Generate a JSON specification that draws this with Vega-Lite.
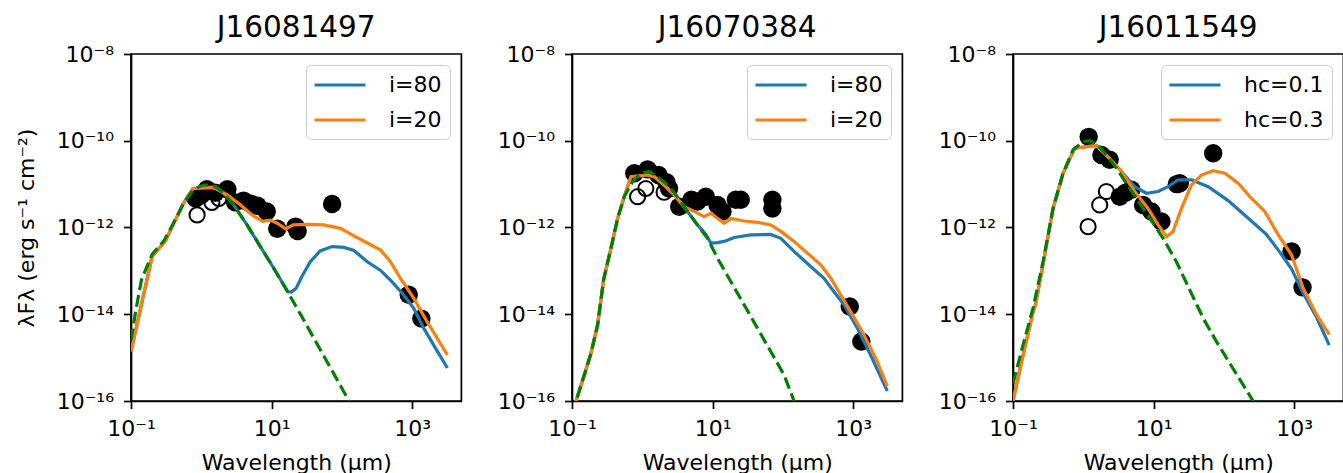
{
  "$schema": "https://vega.github.io/schema/vega-lite/v6.json",
  "padding": {"left": 14, "top": 11, "right": 0, "bottom": 0},
  "bounds": "flush",
  "spacing": 110,
  "background": "white",
  "config": {
    "font": "DejaVu Sans",
    "view": {"stroke": "black", "strokeWidth": 1.7},
    "axis": {
      "labelFont": "DejaVu Sans", "labelFontSize": 22, "labelColor": "black",
      "titleFont": "DejaVu Sans", "titleFontSize": 22, "titleFontWeight": "normal", "titleColor": "black",
      "tickColor": "black", "tickSize": 7.5, "tickWidth": 1.7,
      "domainColor": "black", "domainWidth": 1.7,
      "grid": false, "labelFlush": false, "labelOverlap": false, "labelPadding": 10
    },
    "legend": {
      "labelFont": "DejaVu Sans", "labelFontSize": 22, "labelColor": "black"
    }
  },
  "resolve": {"scale": {"x": "independent", "y": "independent", "color": "independent"}, "legend": {"color": "independent"}},
  "datasets": {
    "g1": [
      {"w":0.1,"f":2.51e-15},{"w":0.1175,"f":1.26e-14},{"w":0.1413,"f":6.31e-14},{"w":0.1995,"f":2.4e-13},{"w":0.2951,"f":5.01e-13},{"w":0.4074,"f":1.32e-12},{"w":0.5623,"f":3.63e-12},{"w":0.7762,"f":7.59e-12},{"w":1.072,"f":9.55e-12},{"w":1.318,"f":9.55e-12},{"w":1.585,"f":8.71e-12},{"w":2.089,"f":6.17e-12},{"w":2.884,"f":3.31e-12},{"w":4.467,"f":1.15e-12},{"w":6.918,"f":3.63e-13},{"w":10.72,"f":1.15e-13},{"w":16.6,"f":3.467e-14},{"w":25.7,"f":1.0e-14},{"w":39.81,"f":2.818e-15},{"w":61.66,"f":7.943e-16},{"w":95.5,"f":2.239e-16},{"w":147.9,"f":6.31e-17}
    ],
    "b1": [
      {"s":"i=80","w":0.1,"f":1.38e-15},{"s":"i=80","w":0.1995,"f":2.14e-13},{"s":"i=80","w":0.309,"f":4.9e-13},{"s":"i=80","w":0.4074,"f":1.259e-12},{"s":"i=80","w":0.5495,"f":3.467e-12},{"s":"i=80","w":0.7586,"f":7.943e-12},{"s":"i=80","w":1.585,"f":8.71e-12},{"s":"i=80","w":2.089,"f":6.17e-12},{"s":"i=80","w":2.884,"f":3.31e-12},{"s":"i=80","w":4.467,"f":1.15e-12},{"s":"i=80","w":6.918,"f":3.63e-13},{"s":"i=80","w":10.72,"f":1.15e-13},{"s":"i=80","w":16.98,"f":3.31e-14},{"s":"i=80","w":19.05,"f":3.236e-14},{"s":"i=80","w":22.39,"f":3.98e-14},{"s":"i=80","w":26.92,"f":7.41e-14},{"s":"i=80","w":35.48,"f":1.622e-13},{"s":"i=80","w":48.98,"f":2.884e-13},{"s":"i=80","w":72.44,"f":3.631e-13},{"s":"i=80","w":107.2,"f":3.467e-13},{"s":"i=80","w":147.9,"f":2.951e-13},{"s":"i=80","w":229.1,"f":1.622e-13},{"s":"i=80","w":354.8,"f":1.023e-13},{"s":"i=80","w":512.9,"f":5.623e-14},{"s":"i=80","w":724.4,"f":3.02e-14},{"s":"i=80","w":1047,"f":1.38e-14},{"s":"i=80","w":1445,"f":4.9e-15},{"s":"i=80","w":2138,"f":1.66e-15},{"s":"i=80","w":3162,"f":5.75e-16}
    ],
    "r1": [
      {"s":"i=20","w":0.1,"f":1.38e-15},{"s":"i=20","w":0.1995,"f":2.14e-13},{"s":"i=20","w":0.309,"f":4.9e-13},{"s":"i=20","w":0.4074,"f":1.259e-12},{"s":"i=20","w":0.5495,"f":3.467e-12},{"s":"i=20","w":0.7586,"f":7.943e-12},{"s":"i=20","w":1.5,"f":8.318e-12},{"s":"i=20","w":2.344,"f":5.623e-12},{"s":"i=20","w":3.631,"f":3.311e-12},{"s":"i=20","w":5.248,"f":1.95e-12},{"s":"i=20","w":7.413,"f":1.38e-12},{"s":"i=20","w":9.55,"f":1.479e-12},{"s":"i=20","w":12.02,"f":1.259e-12},{"s":"i=20","w":15.85,"f":9.33e-13},{"s":"i=20","w":20.42,"f":1.148e-12},{"s":"i=20","w":31.62,"f":1.175e-12},{"s":"i=20","w":54.95,"f":1.148e-12},{"s":"i=20","w":95.5,"f":9.55e-13},{"s":"i=20","w":158.5,"f":6.03e-13},{"s":"i=20","w":354.8,"f":3.02e-13},{"s":"i=20","w":489.8,"f":1.622e-13},{"s":"i=20","w":676.1,"f":6.76e-14},{"s":"i=20","w":1047,"f":2.344e-14},{"s":"i=20","w":1622,"f":6.76e-15},{"s":"i=20","w":3162,"f":1.148e-15}
    ],
    "d1": [
      {"w":0.8318,"f":4.677e-12},{"w":1.0,"f":5.623e-12},{"w":1.202,"f":7.586e-12},{"w":1.585,"f":6.31e-12},{"w":2.344,"f":7.586e-12},{"w":3.02,"f":3.8e-12},{"w":3.981,"f":4.169e-12},{"w":5.012,"f":3.548e-12},{"w":6.31,"f":3.162e-12},{"w":8.511,"f":2.344e-12},{"w":12.02,"f":9.33e-13},{"w":21.88,"f":1.047e-12},{"w":23.44,"f":8.32e-13},{"w":72.44,"f":3.467e-12},{"w":891.3,"f":2.818e-14},{"w":1349,"f":7.94e-15}
    ],
    "o1": [
      {"w":0.871,"f":1.95e-12},{"w":1.413,"f":3.8e-12},{"w":1.778,"f":4.677e-12}
    ],
    "g2": [
      {"w":0.1,"f":5.1e-17},{"w":0.1496,"f":3.981e-16},{"w":0.1862,"f":1.259e-15},{"w":0.2317,"f":5.754e-15},{"w":0.2818,"f":6.31e-14},{"w":0.3581,"f":3.311e-13},{"w":0.4457,"f":1.622e-12},{"w":0.5534,"f":5.129e-12},{"w":0.7278,"f":1.148e-11},{"w":0.955,"f":1.778e-11},{"w":1.259,"f":1.95e-11},{"w":1.648,"f":1.479e-11},{"w":2.291,"f":9.55e-12},{"w":3.162,"f":5.129e-12},{"w":4.395,"f":2.344e-12},{"w":6.095,"f":1.148e-12},{"w":8.453,"f":5.623e-13},{"w":11.75,"f":1.95e-13},{"w":18.2,"f":5.623e-14},{"w":28.05,"f":1.66e-14},{"w":43.35,"f":4.786e-15},{"w":67.14,"f":1.38e-15},{"w":103.8,"f":3.981e-16},{"w":143.9,"f":1.0e-16},{"w":199.5,"f":3.55e-17}
    ],
    "b2": [
      {"s":"i=80","w":0.1,"f":5.1e-17},{"s":"i=80","w":0.1496,"f":3.981e-16},{"s":"i=80","w":0.1862,"f":1.259e-15},{"s":"i=80","w":0.2317,"f":5.754e-15},{"s":"i=80","w":0.2818,"f":6.31e-14},{"s":"i=80","w":0.3581,"f":3.311e-13},{"s":"i=80","w":0.4457,"f":1.622e-12},{"s":"i=80","w":0.5534,"f":5.129e-12},{"s":"i=80","w":0.6887,"f":1.479e-11},{"s":"i=80","w":1.189,"f":1.622e-11},{"s":"i=80","w":1.479,"f":1.479e-11},{"s":"i=80","w":2.042,"f":9.55e-12},{"s":"i=80","w":2.844,"f":5.623e-12},{"s":"i=80","w":4.395,"f":2.344e-12},{"s":"i=80","w":6.095,"f":1.148e-12},{"s":"i=80","w":7.943,"f":7.079e-13},{"s":"i=80","w":9.44,"f":4.365e-13},{"s":"i=80","w":11.75,"f":4.467e-13},{"s":"i=80","w":14.59,"f":4.786e-13},{"s":"i=80","w":20.23,"f":5.888e-13},{"s":"i=80","w":34.91,"f":6.761e-13},{"s":"i=80","w":67.14,"f":6.918e-13},{"s":"i=80","w":93.33,"f":5.623e-13},{"s":"i=80","w":143.9,"f":2.818e-13},{"s":"i=80","w":248.3,"f":1.259e-13},{"s":"i=80","w":383.7,"f":6.761e-14},{"s":"i=80","w":532.1,"f":3.311e-14},{"s":"i=80","w":738.2,"f":1.66e-14},{"s":"i=80","w":1143,"f":4.786e-15},{"s":"i=80","w":1766,"f":1.148e-15},{"s":"i=80","w":3048,"f":1.698e-16}
    ],
    "r2": [
      {"s":"i=20","w":0.1,"f":5.1e-17},{"s":"i=20","w":0.1496,"f":3.981e-16},{"s":"i=20","w":0.1862,"f":1.259e-15},{"s":"i=20","w":0.2317,"f":5.754e-15},{"s":"i=20","w":0.2818,"f":6.31e-14},{"s":"i=20","w":0.3581,"f":3.311e-13},{"s":"i=20","w":0.4457,"f":1.622e-12},{"s":"i=20","w":0.5534,"f":5.129e-12},{"s":"i=20","w":0.6887,"f":1.479e-11},{"s":"i=20","w":1.189,"f":1.622e-11},{"s":"i=20","w":1.479,"f":1.479e-11},{"s":"i=20","w":2.042,"f":9.55e-12},{"s":"i=20","w":2.844,"f":5.623e-12},{"s":"i=20","w":3.945,"f":3.02e-12},{"s":"i=20","w":5.47,"f":2.344e-12},{"s":"i=20","w":7.586,"f":1.778e-12},{"s":"i=20","w":9.44,"f":2.138e-12},{"s":"i=20","w":11.75,"f":1.622e-12},{"s":"i=20","w":14.59,"f":1.259e-12},{"s":"i=20","w":18.2,"f":1.622e-12},{"s":"i=20","w":28.05,"f":1.413e-12},{"s":"i=20","w":43.35,"f":1.318e-12},{"s":"i=20","w":67.14,"f":1.148e-12},{"s":"i=20","w":93.33,"f":8.13e-13},{"s":"i=20","w":143.9,"f":4.786e-13},{"s":"i=20","w":222.3,"f":2.57e-13},{"s":"i=20","w":344.4,"f":1.38e-13},{"s":"i=20","w":478.6,"f":6.761e-14},{"s":"i=20","w":660.7,"f":2.818e-14},{"s":"i=20","w":918.3,"f":1.148e-14},{"s":"i=20","w":1419,"f":3.388e-15},{"s":"i=20","w":2188,"f":8.13e-16},{"s":"i=20","w":3048,"f":2.188e-16}
    ],
    "d2": [
      {"w":0.77,"f":1.778e-11},{"w":1.189,"f":2.188e-11},{"w":1.7,"f":1.622e-11},{"w":2.2,"f":1.1e-11},{"w":2.399,"f":7.943e-12},{"w":3.35,"f":3.02e-12},{"w":5.0,"f":4.365e-12},{"w":6.095,"f":3.981e-12},{"w":8.0,"f":5.129e-12},{"w":11.75,"f":3.311e-12},{"w":13.8,"f":2.344e-12},{"w":21.38,"f":4.365e-12},{"w":25.12,"f":4.365e-12},{"w":70.79,"f":4.365e-12},{"w":70.79,"f":2.754e-12},{"w":891.3,"f":1.514e-14},{"w":1303,"f":2.344e-15}
    ],
    "o2": [
      {"w":0.857,"f":5.129e-12},{"w":1.122,"f":7.943e-12},{"w":2.042,"f":6.5e-12}
    ],
    "g3": [
      {"w":0.1,"f":2.512e-16},{"w":0.1387,"f":1.95e-15},{"w":0.1928,"f":1.38e-14},{"w":0.2673,"f":1.622e-13},{"w":0.3715,"f":2.754e-12},{"w":0.5152,"f":1.778e-11},{"w":0.7145,"f":6.166e-11},{"w":0.9908,"f":9.55e-11},{"w":1.233,"f":1.0e-10},{"w":1.622,"f":7.943e-11},{"w":2.128,"f":4.677e-11},{"w":2.951,"f":2.344e-11},{"w":4.571,"f":7.943e-12},{"w":7.079,"f":2.754e-12},{"w":9.817,"f":1.259e-12},{"w":13.65,"f":5.623e-13},{"w":21.09,"f":1.622e-13},{"w":32.66,"f":3.631e-14},{"w":50.58,"f":8.128e-15},{"w":78.34,"f":2.344e-15},{"w":121.1,"f":7.413e-16},{"w":187.5,"f":2.344e-16},{"w":260.6,"f":1.0e-16},{"w":354.8,"f":3.981e-17}
    ],
    "b3": [
      {"s":"hc=0.1","w":0.1,"f":1.0e-16},{"s":"hc=0.1","w":0.1387,"f":1.122e-15},{"s":"hc=0.1","w":0.1928,"f":1.122e-14},{"s":"hc=0.1","w":0.2089,"f":1.66e-14},{"s":"hc=0.1","w":0.2673,"f":1.413e-13},{"s":"hc=0.1","w":0.3715,"f":2.754e-12},{"s":"hc=0.1","w":0.5152,"f":1.778e-11},{"s":"hc=0.1","w":0.7551,"f":6.761e-11},{"s":"hc=0.1","w":1.535,"f":7.762e-11},{"s":"hc=0.1","w":2.371,"f":3.89e-11},{"s":"hc=0.1","w":3.483,"f":1.95e-11},{"s":"hc=0.1","w":5.383,"f":8.71e-12},{"s":"hc=0.1","w":7.907,"f":6.166e-12},{"s":"hc=0.1","w":11.59,"f":6.761e-12},{"s":"hc=0.1","w":16.07,"f":8.71e-12},{"s":"hc=0.1","w":22.34,"f":1.259e-11},{"s":"hc=0.1","w":34.51,"f":1.259e-11},{"s":"hc=0.1","w":59.7,"f":8.71e-12},{"s":"hc=0.1","w":114.8,"f":4.169e-12},{"s":"hc=0.1","w":245.5,"f":1.413e-12},{"s":"hc=0.1","w":398.1,"f":7.079e-13},{"s":"hc=0.1","w":631,"f":2.63e-13},{"s":"hc=0.1","w":912,"f":1.122e-13},{"s":"hc=0.1","w":1349,"f":3.02e-14},{"s":"hc=0.1","w":2075,"f":8.51e-15},{"s":"hc=0.1","w":3141,"f":1.95e-15}
    ],
    "r3": [
      {"s":"hc=0.3","w":0.1,"f":1.0e-16},{"s":"hc=0.3","w":0.1387,"f":1.122e-15},{"s":"hc=0.3","w":0.1928,"f":1.122e-14},{"s":"hc=0.3","w":0.2089,"f":1.66e-14},{"s":"hc=0.3","w":0.2673,"f":1.413e-13},{"s":"hc=0.3","w":0.3715,"f":2.754e-12},{"s":"hc=0.3","w":0.5152,"f":1.778e-11},{"s":"hc=0.3","w":0.7551,"f":6.761e-11},{"s":"hc=0.3","w":1.535,"f":7.762e-11},{"s":"hc=0.3","w":2.371,"f":3.89e-11},{"s":"hc=0.3","w":3.483,"f":1.95e-11},{"s":"hc=0.3","w":5.383,"f":6.761e-12},{"s":"hc=0.3","w":8.318,"f":2.754e-12},{"s":"hc=0.3","w":11.59,"f":1.148e-12},{"s":"hc=0.3","w":15.21,"f":6.166e-13},{"s":"hc=0.3","w":18.92,"f":8.128e-13},{"s":"hc=0.3","w":24.89,"f":2.754e-12},{"s":"hc=0.3","w":34.51,"f":9.55e-12},{"s":"hc=0.3","w":47.86,"f":1.622e-11},{"s":"hc=0.3","w":70.31,"f":2.042e-11},{"s":"hc=0.3","w":102.8,"f":1.778e-11},{"s":"hc=0.3","w":159.6,"f":1.047e-11},{"s":"hc=0.3","w":246.6,"f":4.677e-12},{"s":"hc=0.3","w":380.2,"f":2.344e-12},{"s":"hc=0.3","w":591.6,"f":6.761e-13},{"s":"hc=0.3","w":912,"f":2.344e-13},{"s":"hc=0.3","w":1340,"f":3.981e-14},{"s":"hc=0.3","w":2075,"f":9.772e-15},{"s":"hc=0.3","w":3141,"f":3.388e-15}
    ],
    "d3": [
      {"w":1.191,"f":1.23e-10},{"w":1.807,"f":4.677e-11},{"w":2.371,"f":3.631e-11},{"w":3.296,"f":5.129e-12},{"w":3.981,"f":6.31e-12},{"w":4.831,"f":7.413e-12},{"w":7.079,"f":3.311e-12},{"w":9.311,"f":2.344e-12},{"w":12.91,"f":1.38e-12},{"w":21.38,"f":1.0e-11},{"w":23.55,"f":1.047e-11},{"w":70.31,"f":5.129e-11},{"w":916.2,"f":2.818e-13},{"w":1312,"f":4.169e-14}
    ],
    "o3": [
      {"w":1.17,"f":1.047e-12},{"w":1.71,"f":3.311e-12},{"w":2.128,"f":6.761e-12}
    ]
  },
  "hconcat": [
    {
      "width": 330.4, "height": 347,
      "title": {"text": "J16081497", "font": "DejaVu Sans", "fontSize": 29.5, "fontWeight": "normal", "color": "black", "frame": "group", "anchor": "middle", "offset": 0},
      "layer": [
        {"data": {"name": "d1"}, "mark": {"type": "circle", "size": 340, "color": "black", "opacity": 1},
         "encoding": {
           "x": {"field": "w", "type": "quantitative", "scale": {"type": "log", "domain": [0.1, 5000], "nice": false},
                 "axis": {"values": [0.1, 10, 1000], "title": "Wavelength (μm)", "titleY": 68.7, "titleBaseline": "alphabetic",
                          "labelExpr": "'10' + replace(replace(replace(replace('' + round(log(datum.value)/LN10), '-', '⁻'), '1', '¹'), '3', '³'), '0', '⁰')"}},
           "y": {"field": "f", "type": "quantitative", "scale": {"type": "log", "domain": [1e-16, 1e-8], "nice": false},
                 "axis": {"values": [1e-16, 1e-14, 1e-12, 1e-10, 1e-8], "title": "λFλ (erg s⁻¹ cm⁻²)", "titleX": -97.3, "titleY": 173.5, "titleAngle": 270, "titleBaseline": "alphabetic", "titleAlign": "center",
                          "labelExpr": "'10' + replace(replace(replace(replace(replace(replace(replace('' + round(log(datum.value)/LN10), '-', '⁻'), '1', '¹'), '0', '⁰'), '2', '²'), '4', '⁴'), '6', '⁶'), '8', '⁸')"}}
         }},
        {"data": {"name": "o1"}, "mark": {"type": "point", "shape": "circle", "filled": false, "size": 230, "color": "black", "strokeWidth": 2, "opacity": 1},
         "encoding": {"x": {"field": "w", "type": "quantitative"}, "y": {"field": "f", "type": "quantitative"}}},
        {"data": {"name": "b1"}, "mark": {"type": "line", "strokeWidth": 3.2, "clip": true},
         "encoding": {"x": {"field": "w", "type": "quantitative"}, "y": {"field": "f", "type": "quantitative"},
           "color": {"field": "s", "type": "nominal", "scale": {"domain": ["i=80", "i=20"], "range": ["#1f77b4", "#ff7f0e"]},
             "legend": {"orient": "top-right", "title": null, "offset": 11, "padding": 8, "symbolType": "M-2.55,0L2.55,0", "symbolSize": 400, "symbolStrokeWidth": 3.2, "symbolOffset": 14, "labelOffset": 37, "rowPadding": 12, "fillColor": "rgba(255,255,255,0.8)", "strokeColor": "#cccccc", "cornerRadius": 5, "labelFontSize": 22}}}},
        {"data": {"name": "r1"}, "mark": {"type": "line", "strokeWidth": 3.2, "clip": true},
         "encoding": {"x": {"field": "w", "type": "quantitative"}, "y": {"field": "f", "type": "quantitative"},
           "color": {"field": "s", "type": "nominal", "scale": {"domain": ["i=80", "i=20"], "range": ["#1f77b4", "#ff7f0e"]}}}},
        {"data": {"name": "g1"}, "mark": {"type": "line", "color": "green", "strokeWidth": 3.2, "strokeDash": [11.9, 5.1], "clip": true},
         "encoding": {"x": {"field": "w", "type": "quantitative"}, "y": {"field": "f", "type": "quantitative"}}}
      ]
    },
    {
      "width": 330.4, "height": 347,
      "title": {"text": "J16070384", "font": "DejaVu Sans", "fontSize": 29.5, "fontWeight": "normal", "color": "black", "frame": "group", "anchor": "middle", "offset": 0},
      "layer": [
        {"data": {"name": "d2"}, "mark": {"type": "circle", "size": 340, "color": "black", "opacity": 1},
         "encoding": {
           "x": {"field": "w", "type": "quantitative", "scale": {"type": "log", "domain": [0.1, 5000], "nice": false},
                 "axis": {"values": [0.1, 10, 1000], "title": "Wavelength (μm)", "titleY": 68.7, "titleBaseline": "alphabetic",
                          "labelExpr": "'10' + replace(replace(replace(replace('' + round(log(datum.value)/LN10), '-', '⁻'), '1', '¹'), '3', '³'), '0', '⁰')"}},
           "y": {"field": "f", "type": "quantitative", "scale": {"type": "log", "domain": [1e-16, 1e-8], "nice": false},
                 "axis": {"values": [1e-16, 1e-14, 1e-12, 1e-10, 1e-8], "title": null,
                          "labelExpr": "'10' + replace(replace(replace(replace(replace(replace(replace('' + round(log(datum.value)/LN10), '-', '⁻'), '1', '¹'), '0', '⁰'), '2', '²'), '4', '⁴'), '6', '⁶'), '8', '⁸')"}}
         }},
        {"data": {"name": "o2"}, "mark": {"type": "point", "shape": "circle", "filled": false, "size": 230, "color": "black", "strokeWidth": 2, "opacity": 1},
         "encoding": {"x": {"field": "w", "type": "quantitative"}, "y": {"field": "f", "type": "quantitative"}}},
        {"data": {"name": "b2"}, "mark": {"type": "line", "strokeWidth": 3.2, "clip": true},
         "encoding": {"x": {"field": "w", "type": "quantitative"}, "y": {"field": "f", "type": "quantitative"},
           "color": {"field": "s", "type": "nominal", "scale": {"domain": ["i=80", "i=20"], "range": ["#1f77b4", "#ff7f0e"]},
             "legend": {"orient": "top-right", "title": null, "offset": 11, "padding": 8, "symbolType": "M-2.55,0L2.55,0", "symbolSize": 400, "symbolStrokeWidth": 3.2, "symbolOffset": 14, "labelOffset": 37, "rowPadding": 12, "fillColor": "rgba(255,255,255,0.8)", "strokeColor": "#cccccc", "cornerRadius": 5, "labelFontSize": 22}}}},
        {"data": {"name": "r2"}, "mark": {"type": "line", "strokeWidth": 3.2, "clip": true},
         "encoding": {"x": {"field": "w", "type": "quantitative"}, "y": {"field": "f", "type": "quantitative"},
           "color": {"field": "s", "type": "nominal", "scale": {"domain": ["i=80", "i=20"], "range": ["#1f77b4", "#ff7f0e"]}}}},
        {"data": {"name": "g2"}, "mark": {"type": "line", "color": "green", "strokeWidth": 3.2, "strokeDash": [11.9, 5.1], "clip": true},
         "encoding": {"x": {"field": "w", "type": "quantitative"}, "y": {"field": "f", "type": "quantitative"}}}
      ]
    },
    {
      "width": 330.4, "height": 347,
      "title": {"text": "J16011549", "font": "DejaVu Sans", "fontSize": 29.5, "fontWeight": "normal", "color": "black", "frame": "group", "anchor": "middle", "offset": 0},
      "layer": [
        {"data": {"name": "d3"}, "mark": {"type": "circle", "size": 340, "color": "black", "opacity": 1},
         "encoding": {
           "x": {"field": "w", "type": "quantitative", "scale": {"type": "log", "domain": [0.1, 5000], "nice": false},
                 "axis": {"values": [0.1, 10, 1000], "title": "Wavelength (μm)", "titleY": 68.7, "titleBaseline": "alphabetic",
                          "labelExpr": "'10' + replace(replace(replace(replace('' + round(log(datum.value)/LN10), '-', '⁻'), '1', '¹'), '3', '³'), '0', '⁰')"}},
           "y": {"field": "f", "type": "quantitative", "scale": {"type": "log", "domain": [1e-16, 1e-8], "nice": false},
                 "axis": {"values": [1e-16, 1e-14, 1e-12, 1e-10, 1e-8], "title": null,
                          "labelExpr": "'10' + replace(replace(replace(replace(replace(replace(replace('' + round(log(datum.value)/LN10), '-', '⁻'), '1', '¹'), '0', '⁰'), '2', '²'), '4', '⁴'), '6', '⁶'), '8', '⁸')"}}
         }},
        {"data": {"name": "o3"}, "mark": {"type": "point", "shape": "circle", "filled": false, "size": 230, "color": "black", "strokeWidth": 2, "opacity": 1},
         "encoding": {"x": {"field": "w", "type": "quantitative"}, "y": {"field": "f", "type": "quantitative"}}},
        {"data": {"name": "b3"}, "mark": {"type": "line", "strokeWidth": 3.2, "clip": true},
         "encoding": {"x": {"field": "w", "type": "quantitative"}, "y": {"field": "f", "type": "quantitative"},
           "color": {"field": "s", "type": "nominal", "scale": {"domain": ["hc=0.1", "hc=0.3"], "range": ["#1f77b4", "#ff7f0e"]},
             "legend": {"orient": "top-right", "title": null, "offset": 11, "padding": 8, "symbolType": "M-2.55,0L2.55,0", "symbolSize": 400, "symbolStrokeWidth": 3.2, "symbolOffset": 14, "labelOffset": 37, "rowPadding": 12, "fillColor": "rgba(255,255,255,0.8)", "strokeColor": "#cccccc", "cornerRadius": 5, "labelFontSize": 22}}}},
        {"data": {"name": "r3"}, "mark": {"type": "line", "strokeWidth": 3.2, "clip": true},
         "encoding": {"x": {"field": "w", "type": "quantitative"}, "y": {"field": "f", "type": "quantitative"},
           "color": {"field": "s", "type": "nominal", "scale": {"domain": ["hc=0.1", "hc=0.3"], "range": ["#1f77b4", "#ff7f0e"]}}}},
        {"data": {"name": "g3"}, "mark": {"type": "line", "color": "green", "strokeWidth": 3.2, "strokeDash": [11.9, 5.1], "clip": true},
         "encoding": {"x": {"field": "w", "type": "quantitative"}, "y": {"field": "f", "type": "quantitative"}}}
      ]
    }
  ]
}
